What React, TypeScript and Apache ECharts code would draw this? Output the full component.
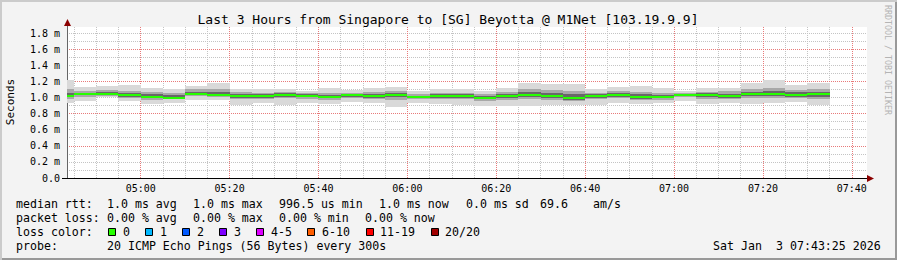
import React, { useEffect, useRef } from 'react';
import * as echarts from 'echarts';

// ---------- data ----------
const chartTitle = 'Last 3 Hours from Singapore to [SG] Beyotta @ M1Net [103.19.9.9]';
const X_MIN = 4 * 60 + 43 + 25 / 60; // 04:43:25 in minutes
const X_MAX = X_MIN + 180; // 07:43:25
const FIRST_STEP_END = 4 * 60 + 45; // 04:45
const STEP_MIN = 5;

const xTickValues = [300, 320, 340, 360, 380, 400, 420, 440, 460];
const xTickLabels = ['05:00', '05:20', '05:40', '06:00', '06:20', '06:40', '07:00', '07:20', '07:40'];
const yTickValues = [0, 0.2, 0.4, 0.6, 0.8, 1.0, 1.2, 1.4, 1.6, 1.8];
const yTickLabels = ['0.0', '0.2 m', '0.4 m', '0.6 m', '0.8 m', '1.0 m', '1.2 m', '1.4 m', '1.6 m', '1.8 m'];

// median rtt per 5-minute step (ms)
const medianMs = [1.022, 1.041, 1.039, 1.026, 1.010, 0.997, 1.043, 1.034, 1.018, 1.018, 1.034, 1.022, 1.005, 1.026, 1.018, 1.034, 1.001, 1.018, 1.018, 0.997, 1.018, 1.034, 1.022, 0.997, 1.018, 1.034, 1.005, 1.010, 1.034, 1.034, 1.018, 1.043, 1.043, 1.034, 1.043];
// smoke extents (ms)
const smokeMax = [1.22, 1.134, 1.146, 1.154, 1.117, 1.105, 1.142, 1.18, 1.105, 1.105, 1.105, 1.084, 1.117, 1.092, 1.117, 1.134, 1.076, 1.105, 1.10, 1.076, 1.117, 1.179, 1.167, 1.167, 1.105, 1.134, 1.138, 1.117, 1.084, 1.117, 1.117, 1.179, 1.217, 1.154, 1.179];
const smokeP75 = [1.10, 1.08, 1.09, 1.08, 1.07, 1.06, 1.10, 1.10, 1.07, 1.06, 1.07, 1.06, 1.05, 1.06, 1.07, 1.08, 1.04, 1.06, 1.06, 1.04, 1.07, 1.10, 1.09, 1.08, 1.06, 1.08, 1.07, 1.06, 1.055, 1.07, 1.08, 1.10, 1.12, 1.09, 1.10];
const smokeP25 = [0.98, 1.01, 1.02, 0.99, 0.97, 0.975, 1.02, 1.01, 0.975, 0.98, 0.99, 0.98, 0.97, 0.99, 0.98, 0.97, 0.975, 0.975, 0.975, 0.96, 0.97, 0.98, 0.97, 0.95, 0.975, 0.99, 0.965, 0.97, 1.01, 0.985, 0.98, 0.99, 0.99, 0.99, 0.98];
const smokeMin = [0.93, 0.95, 1.005, 0.96, 0.92, 0.93, 0.968, 0.968, 0.906, 0.935, 0.91, 0.927, 0.918, 0.947, 0.935, 0.88, 0.935, 0.918, 0.91, 0.897, 0.897, 0.897, 0.91, 0.91, 0.91, 0.927, 0.918, 0.927, 0.96, 0.918, 0.927, 0.918, 0.927, 0.939, 0.91];

const rttLabels = ['median rtt:', '1.0 ms avg', '1.0 ms max', '996.5 us min', '1.0 ms now', '0.0 ms sd', '69.6', 'am/s'];
const lossLabels = ['packet loss:', '0.00 % avg', '0.00 % max', '0.00 % min', '0.00 % now'];
const lossColorTitle = 'loss color:';
const lossColorLabels = ['0', '1', '2', '3', '4-5', '6-10', '11-19', '20/20'];
const lossColors = ['#26ff00', '#00b8ff', '#0059ff', '#7e00ff', '#dd00ff', '#ff5e00', '#ff0000', '#a10000'];
const probeLabels = ['probe:', '20 ICMP Echo Pings (56 Bytes) every 300s'];
const dateLabels = ['Sat Jan', '3 07:43:25 2026'];
const sideLabel = 'RRDTOOL / TOBI OETIKER';
const yName = 'Seconds';

// ---------- layout / style ----------
const MONO = '"DejaVu Sans Mono", monospace';
const GRID_GRAY = '#c4c4c4';
const GRID_RED = '#e87a7a';

const xMinor: number[] = [];
for (let t = FIRST_STEP_END; t <= X_MAX; t += STEP_MIN) if (t % 20 !== 0) xMinor.push(t);
const yMinor = [0.1, 0.2, 0.3, 0.5, 0.6, 0.7, 0.9, 1.0, 1.1, 1.3, 1.4, 1.5, 1.7, 1.8];
const yMajor = [0.4, 0.8, 1.2, 1.6];

function txt(x: number, y: number, text: string, size = 11.6, extra: any = {}) {
  return {
    type: 'text', x, y, z: 20,
    style: { text, fontFamily: MONO, fontSize: size, fill: '#000', textAlign: 'left', textVerticalAlign: 'middle', ...(extra.style || {}) },
    ...(extra.el || {}),
  };
}

export default function App() {
  const ref = useRef<HTMLDivElement>(null);
  useEffect(() => {
    if (!ref.current) return;
    const chart = echarts.init(ref.current, undefined, { renderer: 'svg' });

    const smokeData = medianMs.map((m, i) => [
      i === 0 ? X_MIN : FIRST_STEP_END + STEP_MIN * (i - 1),
      FIRST_STEP_END + STEP_MIN * i,
      smokeMin[i], smokeP25[i], m, smokeP75[i], smokeMax[i],
    ]);

    const rttX = [16, 107, 193, 279, 379, 466, 540, 593];
    const lossX = [16, 107, 193, 279, 365];
    const boxX = [108, 145, 182, 219, 256, 307, 366, 431];
    const boxTextX = [123, 160, 197, 234, 271, 322, 380, 445];

    const elements: any[] = [
      // 3D frame
      { type: 'rect', shape: { x: 0, y: 0, width: 897, height: 2 }, style: { fill: '#cbcbcb' } },
      { type: 'rect', shape: { x: 0, y: 0, width: 2, height: 260 }, style: { fill: '#cbcbcb' } },
      { type: 'rect', shape: { x: 2, y: 258, width: 895, height: 2 }, style: { fill: '#999999' } },
      { type: 'rect', shape: { x: 895, y: 2, width: 2, height: 258 }, style: { fill: '#999999' } },
      // axis extensions & arrows
      { type: 'line', z: 20, shape: { x1: 62, y1: 178.5, x2: 67, y2: 178.5 }, style: { stroke: '#000', lineWidth: 1 } },
      { type: 'line', z: 20, shape: { x1: 67.5, y1: 23, x2: 67.5, y2: 27 }, style: { stroke: '#666', lineWidth: 1 } },
      { type: 'polygon', z: 21, shape: { points: [[64, 26], [71, 26], [67.5, 19]] }, style: { fill: '#8b0000' } },
      { type: 'polygon', z: 21, shape: { points: [[867, 175], [867, 182], [874, 178.5]] }, style: { fill: '#8b0000' } },
      // title
      txt(448, 19, chartTitle, 13, { style: { textAlign: 'center' } }),
      // y name
      txt(10.5, 102, yName, 11, { style: { textAlign: 'center' }, el: { rotation: Math.PI / 2 } }),
      // side label
      txt(887.5, 5, sideLabel, 8.3, { style: { fill: '#b4b4b4' }, el: { rotation: -Math.PI / 2 } }),
    ];
    rttLabels.forEach((t, i) => elements.push(txt(rttX[i], 204, t)));
    lossLabels.forEach((t, i) => elements.push(txt(lossX[i], 218, t)));
    elements.push(txt(16, 232, lossColorTitle));
    lossColorLabels.forEach((t, i) => {
      elements.push({ type: 'rect', z: 20, shape: { x: boxX[i] + 0.5, y: 228.5, width: 7, height: 7 }, style: { fill: lossColors[i], stroke: '#000', lineWidth: 1 } });
      elements.push(txt(boxTextX[i], 232, t));
    });
    elements.push(txt(16, 246, probeLabels[0]));
    elements.push(txt(107, 246, probeLabels[1]));
    elements.push(txt(713, 246, dateLabels[0]));
    elements.push(txt(776, 246, dateLabels[1]));

    const hiddenAxisBits = { axisLine: { show: false }, axisLabel: { show: false } };

    const fmtTime = (v: number) => {
      const idx = xTickValues.findIndex((t) => Math.abs(t - v) < 1e-6);
      return idx >= 0 ? xTickLabels[idx] : '';
    };
    const fmtY = (v: number) => {
      const idx = yTickValues.findIndex((t) => Math.abs(t - v) < 1e-6);
      return idx >= 0 ? yTickLabels[idx] : '';
    };

    chart.setOption({
      animation: false,
      backgroundColor: '#f3f3f3',
      grid: {
        left: 67, right: 30, top: 27, bottom: 82,
        show: true, backgroundColor: '#ffffff', borderWidth: 0,
        outerBoundsMode: 'none', containLabel: false,
      },
      xAxis: [
        {
          type: 'value', min: X_MIN, max: X_MAX, position: 'bottom',
          axisLine: { show: true, onZero: false, lineStyle: { color: '#000', width: 1 } },
          axisTick: { show: false, customValues: xTickValues },
          axisLabel: {
            customValues: xTickValues, formatter: fmtTime, margin: 5,
            fontFamily: MONO, fontSize: 10, color: '#000',
          },
          splitLine: { show: true, lineStyle: { color: GRID_RED, width: 1, type: [1, 1] } },
          z: 3,
        },
        {
          type: 'value', min: X_MIN, max: X_MAX, position: 'top', ...hiddenAxisBits,
          axisTick: { show: false, customValues: xMinor },
          splitLine: { show: true, lineStyle: { color: GRID_GRAY, width: 1, type: [1, 1] } },
          z: 1,
        },
      ],
      yAxis: [
        {
          type: 'value', min: 0, max: 1.875, position: 'left',
          axisLine: { show: true, onZero: false, lineStyle: { color: '#666', width: 1 } },
          axisTick: { show: false, customValues: yTickValues },
          axisLabel: {
            customValues: yTickValues, formatter: fmtY, margin: 7,
            fontFamily: MONO, fontSize: 10, color: '#000',
          },
          splitLine: { show: false },
          z: 3,
        },
        {
          type: 'value', min: 0, max: 1.875, position: 'right', ...hiddenAxisBits,
          axisTick: { show: false, customValues: yMinor },
          splitLine: { show: true, lineStyle: { color: GRID_GRAY, width: 1, type: [1, 1] } },
          z: 1,
        },
        {
          type: 'value', min: 0, max: 1.875, position: 'right', ...hiddenAxisBits,
          axisTick: { show: false, customValues: yMajor },
          splitLine: { show: true, lineStyle: { color: GRID_RED, width: 1, type: [1, 1] } },
          z: 2,
        },
      ],
      series: [
        {
          type: 'custom',
          name: 'smoke',
          coordinateSystem: 'cartesian2d',
          xAxisIndex: 0, yAxisIndex: 0,
          z: 5,
          data: smokeData,
          renderItem: (params: any, api: any) => {
            const s = api.value(0), e = api.value(1);
            const lo = api.value(2), q1 = api.value(3), med = api.value(4), q3 = api.value(5), hi = api.value(6);
            const band = (a: number, b: number, fill: string) => {
              const p0 = api.coord([s, b]);
              const p1 = api.coord([e, a]);
              const x0 = Math.round(p0[0]), x1 = Math.round(p1[0]);
              const y0 = Math.round(p0[1]), y1 = Math.round(p1[1]);
              return { type: 'rect', shape: { x: x0, y: y0, width: x1 - x0, height: Math.max(1, y1 - y0) }, style: { fill } };
            };
            const m0 = api.coord([s, med]);
            const m1 = api.coord([e, med]);
            const mx0 = Math.round(m0[0]), mx1 = Math.round(m1[0]);
            const my = Math.round(m0[1]);
            return {
              type: 'group',
              children: [
                band(lo, hi, '#d9d9d9'),
                band(q1, q3, '#a8a8a8'),
                band((q1 + med) / 2, (q3 + med) / 2, '#686868'),
                { type: 'rect', shape: { x: mx0, y: my - 1, width: mx1 - mx0, height: 2 }, style: { fill: lossColors[0] } },
              ],
            };
          },
        },
      ],
      graphic: { elements },
    } as any);

    return () => chart.dispose();
  }, []);

  return <div ref={ref} style={{ position: 'absolute', left: 0, top: 0, width: 897, height: 260 }} />;
}
